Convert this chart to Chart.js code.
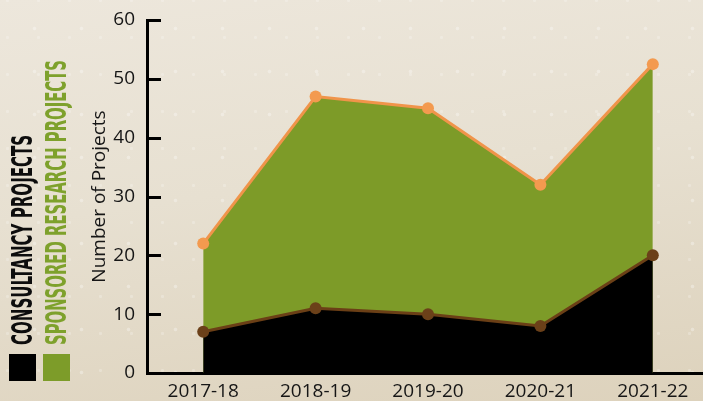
<!DOCTYPE html>
<html>
<head>
<meta charset="utf-8">
<script src="https://cdn.jsdelivr.net/npm/chart.js@4/dist/chart.umd.min.js"></script>
<style>
html, body { margin: 0; padding: 0; width: 703px; height: 401px; overflow: hidden; }
body {
  position: relative;
  background-color: #e5ddcc;
  background-image:
    radial-gradient(circle, rgba(255,255,255,0.30) 1.4px, rgba(255,255,255,0) 2.2px),
    radial-gradient(circle, rgba(255,255,255,0.22) 1.2px, rgba(255,255,255,0) 2px),
    linear-gradient(172deg, #ede7dc 0%, #e7e0d1 45%, #ddd2bc 100%);
  background-size: 47px 43px, 31px 37px, 100% 100%;
  background-position: 11px 7px, 23px 19px, 0 0;
}
#wrap { position: absolute; left: 0; top: 0; width: 715px; height: 401px; }
.sw { position: absolute; top: 354px; width: 27px; height: 27px; }
.lg {
  position: absolute; top: 345px; white-space: nowrap;
  font-family: "Liberation Sans Narrow", "DejaVu Sans Condensed", "Liberation Sans", sans-serif;
  font-weight: bold; font-size: 29px; line-height: 29px;
  transform-origin: 0 0;
}
</style>
</head>
<body>
<div id="wrap"><canvas id="c" width="715" height="401"></canvas></div>
<div class="sw" style="left:9px;background:#000000"></div>
<div class="sw" style="left:43px;background:#7d9c29"></div>
<span class="lg" id="lg1" data-len="210" style="left:8px;color:#0d0d0d">CONSULTANCY PROJECTS</span>
<span class="lg" id="lg2" data-len="285" style="left:42px;color:#7ea12c">SPONSORED RESEARCH PROJECTS</span>
<script>
const categories = ['2017-18', '2018-19', '2019-20', '2020-21', '2021-22'];
const consultancyProjects = [7, 11, 10, 8, 20];
const sponsoredResearchProjects = [22, 47, 45, 32, 52.5];
const yTicks = [0, 10, 20, 30, 40, 50, 60];
const yTitle = 'Number of Projects';

// fit rotated legend labels to their length
document.querySelectorAll('.lg').forEach(el => {
  const w = el.offsetWidth;
  const s = Number(el.dataset.len) / w;
  el.style.transform = 'rotate(-90deg) scaleX(' + s + ')';
});

const innerTicks = {
  id: 'innerTicks',
  afterDraw(chart) {
    const y = chart.scales.y;
    const ctx = chart.ctx;
    const left = chart.chartArea.left;
    ctx.save();
    ctx.strokeStyle = '#000';
    ctx.lineWidth = 3;
    y.ticks.forEach(t => {
      const py = Math.round(y.getPixelForValue(t.value)) + 0.5;
      ctx.beginPath();
      ctx.moveTo(left, py);
      ctx.lineTo(left + 14, py);
      ctx.stroke();
    });
    ctx.restore();
  }
};

const tickFont = { family: "'Open Sans', 'Noto Sans', sans-serif", size: 19 };

new Chart(document.getElementById('c'), {
  type: 'line',
  data: {
    labels: categories,
    datasets: [
      {
        label: 'Consultancy Projects',
        data: consultancyProjects,
        fill: 'origin',
        backgroundColor: '#000000',
        borderColor: '#6b3f16',
        borderWidth: 3,
        pointRadius: 6,
        pointBackgroundColor: '#6b4019',
        pointBorderWidth: 0,
        tension: 0
      },
      {
        label: 'Sponsored Research Projects',
        data: sponsoredResearchProjects,
        fill: 'origin',
        backgroundColor: '#7d9b28',
        borderColor: '#f0944a',
        borderWidth: 3,
        pointRadius: 6,
        pointBackgroundColor: '#f39a4f',
        pointBorderWidth: 0,
        tension: 0
      }
    ]
  },
  options: {
    responsive: false,
    animation: false,
    layout: { padding: { top: 20, left: 0, right: 0, bottom: 0 } },
    plugins: { legend: { display: false }, tooltip: { enabled: false } },
    scales: {
      x: {
        offset: true,
        grid: { display: true, drawOnChartArea: false, drawTicks: false },
        border: { display: true, color: '#000', width: 3 },
        ticks: { color: '#161616', font: tickFont, padding: 7, maxRotation: 0 },
        afterFit(scale) { scale.height = 28; }
      },
      y: {
        min: 0, max: 60,
        grid: { display: true, drawOnChartArea: false, drawTicks: false },
        border: { display: true, color: '#000', width: 3 },
        ticks: { color: '#161616', font: tickFont, padding: 12, stepSize: 10 },
        afterBuildTicks(scale) { scale.ticks = yTicks.map(v => ({ value: v })); },
        title: {
          display: true, text: yTitle, color: '#161616',
          font: { family: "'Open Sans', 'Noto Sans', sans-serif", size: 19 },
          padding: { top: 88, bottom: 0 }
        },
        afterFit(scale) { scale.width = 147; scale.paddingTop = 0; scale.paddingBottom = 0; }
      }
    }
  },
  plugins: [innerTicks]
});
</script>
</body>
</html>
